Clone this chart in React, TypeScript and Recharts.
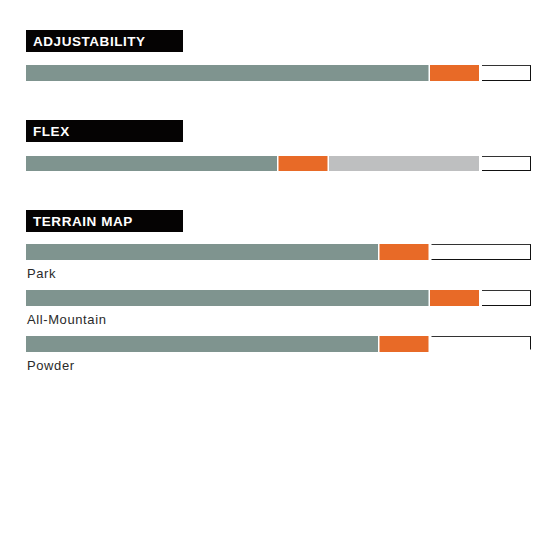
import React from 'react';
import { BarChart, Bar, XAxis, YAxis } from 'recharts';

// values are on a 0-10 scale
const sectionTitles = ['ADJUSTABILITY', 'FLEX', 'TERRAIN MAP'];
const rowNames = ['Adjustability', 'Flex', 'Park', 'All-Mountain', 'Powder'];
const baseValues = [8, 5, 7, 8, 7];
const markValues = [1, 1, 1, 1, 1];
const rangeValues = [0, 3, 0, 0, 0];
const restValues = [1, 1, 2, 1, 2];
const terrainLabels = ['Park', 'All-Mountain', 'Powder'];

const GRAY = '#7f948f';
const ORANGE = '#e86a27';
const LIGHT = '#bebfc0';

const rows = rowNames.map((name, i) => ({
  name,
  base: baseValues[i],
  mark: markValues[i],
  range: rangeValues[i],
  rest: restValues[i],
}));

const Segment = (props: any) => {
  const { x, y, width, height, fill } = props;
  if (!width || width <= 0) return null;
  return <rect x={x} y={y} width={Math.max(width - 1.5, 0)} height={height} fill={fill} />;
};

const makeRest = (openBottom: boolean) => (props: any) => {
  const { x, y, width, height } = props;
  if (!width || width <= 0) return null;
  const l = x + 1.5;
  const r = x + width - 0.5;
  const t = y + 0.5;
  const b = y + height - 0.5;
  return (
    <g fill="none" strokeWidth={1}>
      <line x1={l} y1={t} x2={r + 0.5} y2={t} stroke="#333" />
      <line x1={r} y1={t} x2={r} y2={openBottom ? b - 2 : b + 0.5} stroke="#111" />
      {!openBottom && <line x1={l} y1={b} x2={r} y2={b} stroke="#111" />}
    </g>
  );
};

const RatingBar = ({ row, top, height, openBottom = false }: any) => (
  <div style={{ position: 'absolute', left: 26, top }}>
    <BarChart
      width={506}
      height={height}
      data={[row]}
      layout="vertical"
      margin={{ top: 0, right: 1, bottom: 0, left: 0 }}
      barCategoryGap={0}
    >
      <XAxis type="number" domain={[0, 10]} hide />
      <YAxis type="category" dataKey="name" hide />
      <Bar dataKey="base" stackId="a" fill={GRAY} shape={<Segment />} isAnimationActive={false} />
      <Bar dataKey="mark" stackId="a" fill={ORANGE} shape={<Segment />} isAnimationActive={false} />
      <Bar dataKey="range" stackId="a" fill={LIGHT} shape={<Segment />} isAnimationActive={false} />
      <Bar dataKey="rest" stackId="a" fill="#fff" shape={makeRest(openBottom)} isAnimationActive={false} />
    </BarChart>
  </div>
);

const Header = ({ title, top }: any) => (
  <div
    style={{
      position: 'absolute',
      left: 26,
      top,
      width: 157,
      height: 22,
      background: '#050303',
      color: '#fff',
      fontFamily: '"Liberation Sans", Arial, sans-serif',
      fontWeight: 700,
      fontSize: 13.5,
      letterSpacing: 0.55,
      lineHeight: '23px',
      paddingLeft: 7,
      boxSizing: 'border-box',
    }}
  >
    {title}
  </div>
);

const Label = ({ text, top }: any) => (
  <div
    style={{
      position: 'absolute',
      left: 27,
      top,
      fontFamily: '"Liberation Sans", Arial, sans-serif',
      fontSize: 13,
      letterSpacing: 0.6,
      color: '#2a2a2a',
      lineHeight: '14px',
    }}
  >
    {text}
  </div>
);

const App = () => {
  const terrainTops = [244, 290, 336];
  return (
    <div style={{ position: 'absolute', left: 0, top: 0, width: 559, height: 559, background: '#fff' }}>
      <Header title={sectionTitles[0]} top={30} />
      <RatingBar row={rows[0]} top={65} height={16} />

      <Header title={sectionTitles[1]} top={120} />
      <RatingBar row={rows[1]} top={156} height={15} />

      <Header title={sectionTitles[2]} top={210} />
      {terrainLabels.map((label, i) => (
        <React.Fragment key={label}>
          <RatingBar row={rows[i + 2]} top={terrainTops[i]} height={16} openBottom={i === 2} />
          <Label text={label} top={terrainTops[i] + 23} />
        </React.Fragment>
      ))}
    </div>
  );
};

export default App;
